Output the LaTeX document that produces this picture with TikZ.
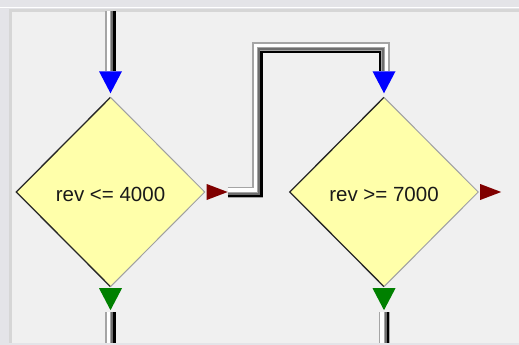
\documentclass[tikz,border=0pt]{standalone}
\usepackage{fontspec}
\setmainfont{Liberation Sans}
\usetikzlibrary{shapes.geometric,calc}
\definecolor{band}{RGB}{228,228,232}
\definecolor{canvasbg}{RGB}{240,240,240}
\definecolor{framegray}{RGB}{214,214,214}
\definecolor{condfill}{RGB}{255,255,170}
\definecolor{flowred}{RGB}{128,0,0}
\definecolor{flowgreen}{RGB}{0,128,0}
\definecolor{flowblue}{RGB}{0,0,255}
\definecolor{pipegray}{RGB}{165,165,165}
\definecolor{pipemid}{RGB}{110,110,110}
\definecolor{edgelight}{RGB}{160,160,160}
\tikzset{
  condbox/.style={diamond, fill=condfill, minimum width=188pt, minimum height=189pt,
    inner sep=0pt},
  condtext/.style={font=\fontsize{20.5}{24}\selectfont, text=black!90, inner sep=0pt},
  pipebase/.style={line width=11pt, draw=pipegray},
  pipelight/.style={line width=3.5pt, draw=white},
  pipemidl/.style={line width=2pt, draw=pipemid},
  pipedark/.style={line width=2.5pt, draw=black},
  darkedge/.style={draw=black!85, line width=1.3pt},
  lightedge/.style={draw=edgelight, line width=1pt},
}
\begin{document}
\begin{tikzpicture}[x=1pt,y=-1pt]
\useasboundingbox (0,0) rectangle (519,345);
% background
\fill[band] (0,0) rectangle (519,345);
\fill[white] (0,7) rectangle (519,8);
\fill[framegray] (9,9) rectangle (519,343);
\fill[canvasbg] (12,12) rectangle (519,343);

% condition nodes
\node[condbox] (c1) at (110.5,192) {};
\node[condbox] (c2) at (384,192) {};
\node[condtext] (t1) at ($(c1)+(0,2)$) {rev <= 4000};
\node[condtext] (t2) at ($(c2)+(0,2)$) {rev >= 7000};
\foreach \c in {c1,c2}{
  \draw[darkedge] (\c.north) -- (\c.west) -- (\c.south);
  \draw[lightedge] (\c.north) -- (\c.east) -- (\c.south);
}

% arrowheads
\foreach \c in {c1,c2}{
  \coordinate (\c-in) at ($(\c.north)+(0,-26)$);
  \fill[flowblue] (\c-in) ++(-11.5,0) -- ++(23,0) -- ($(\c.north)+(0,-4)$) -- cycle;
  \coordinate (\c-out) at ($(\c.south)+(0,25.5)$);
  \fill[flowgreen] ($(\c.south)+(-11.5,1.5)$) -- ($(\c.south)+(11.5,1.5)$) -- ($(\c.south)+(0,23.5)$) -- cycle;
  \coordinate (\c-exit) at ($(\c.east)+(23,0)$);
  \fill[flowred] ($(\c.east)+(2,-8)$) -- (\c-exit) -- ($(\c.east)+(2,8)$) -- cycle;
}

% incoming pipe of the first condition
\coordinate (topin) at (c1-in |- 0,11);
\draw[pipebase] (topin) -- (c1-in);
\draw[pipelight] ($(topin)+(-2.25,0)$) -- ($(c1-in)+(-2.25,0)$);
\draw[pipemidl] ($(topin)+(1.5,0)$) -- ($(c1-in)+(1.5,0)$);
\draw[pipedark] ($(topin)+(4,0)$) -- ($(c1-in)+(4,0)$);

% outgoing pipes at the bottom
\foreach \c in {c1,c2}{
  \coordinate (\c-bot) at (\c-out |- 0,343);
  \draw[pipebase] (\c-out) -- (\c-bot);
  \draw[pipelight] ($(\c-out)+(-2.25,0)$) -- ($(\c-bot)+(-2.25,0)$);
  \draw[pipemidl] ($(\c-out)+(1.5,0)$) -- ($(\c-bot)+(1.5,0)$);
  \draw[pipedark] ($(\c-out)+(4,0)$) -- ($(\c-bot)+(4,0)$);
}

% connector from c1 (false exit) to c2 (entry)
\coordinate (p1) at ($(c1-exit)+(30,0)$);
\coordinate (p2) at (p1 |- 0,48);
\coordinate (p3) at (c2-in |- 0,48);
\draw[pipebase] (c1-exit) -- (p1) -- (p2) -- (p3) -- (c2-in);
\draw[pipelight] ($(c1-exit)+(0,-2.25)$) -- ($(p1)+(-2.25,-2.25)$) -- ($(p2)+(-2.25,-2.25)$)
  -- ($(p3)+(2.25,-2.25)$) -- ($(c2-in)+(2.25,0)$);
\draw[pipemidl] ($(c1-exit)+(0,1.5)$) -- ($(p1)+(1.5,1.5)$) -- ($(p2)+(1.5,1.5)$)
  -- ($(p3)+(-1.5,1.5)$) -- ($(c2-in)+(-1.5,0)$);
\draw[pipedark] ($(c1-exit)+(0,4)$) -- ($(p1)+(4,4)$) -- ($(p2)+(4,4)$)
  -- ($(p3)+(-4,4)$) -- ($(c2-in)+(-4,0)$);
\end{tikzpicture}
\end{document}
